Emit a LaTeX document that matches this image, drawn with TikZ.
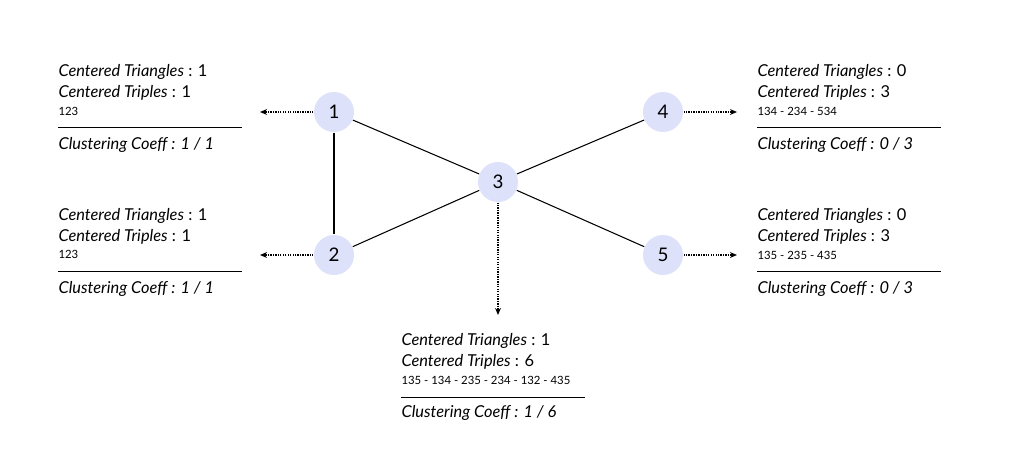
\documentclass[tikz,border=0pt]{standalone}
\usepackage{fontspec}
\setmainfont{Lato}
\usetikzlibrary{arrows.meta}
\definecolor{nodefill}{HTML}{DDE1FA}
\tikzset{
    vertex/.style={circle, fill=nodefill, minimum size=1.2cm, inner sep=0pt, font=\fontsize{16}{16}\selectfont},
    info/.style={anchor=west, inner sep=0pt, font=\fontsize{14}{16}\selectfont},
    small/.style={anchor=west, inner sep=0pt, font=\fontsize{9.7}{11}\selectfont},
    pointer/.style={-{Stealth[length=6pt, width=5pt]}, densely dotted, line width=1.1pt},
    divider/.style={line width=0.6pt},
}
\begin{document}
\begin{tikzpicture}[x=0.03cm, y=-0.03cm, line width=0.9pt]
    \useasboundingbox (0,0) rectangle (1017,463);

    % graph
    \node (v1) [vertex] at (334,112) {1};
    \node (v2) [vertex] at (334,255) {2};
    \node (v3) [vertex] at (498,182) {3};
    \node (v4) [vertex] at (663,112) {4};
    \node (v5) [vertex] at (663,255) {5};

    \draw (v1) -- (v2);
    \draw (v1) -- (v3);
    \draw (v2) -- (v3);
    \draw (v3) -- (v4);
    \draw (v3) -- (v5);

    % where the counts go
    \coordinate (p1) at (260,112);
    \coordinate (p2) at (260,255);
    \coordinate (p3) at (498,315);
    \coordinate (p4) at (737,112);
    \coordinate (p5) at (737,255);
    \draw[pointer] (v1) -- (p1);
    \draw[pointer] (v2) -- (p2);
    \draw[pointer] (v3) -- (p3);
    \draw[pointer] (v4) -- (p4);
    \draw[pointer] (v5) -- (p5);

    % node 1
    \node (tri1) [info] at (58,72) {\textit{Centered Triangles} : 1};
    \node (trp1) [info] at (58,93) {\textit{Centered Triples} : 1};
    \node (lst1) [small] at (58,111) {123};
    \draw[divider] (58,127) -- (242,127);
    \node (cc1) [info] at (58,145) {\textit{Clustering Coeff : 1 / 1}};

    % node 2
    \node (tri2) [info] at (58,216) {\textit{Centered Triangles} : 1};
    \node (trp2) [info] at (58,237) {\textit{Centered Triples} : 1};
    \node (lst2) [small] at (58,254) {123};
    \draw[divider] (58,271) -- (242,271);
    \node (cc2) [info] at (58,289) {\textit{Clustering Coeff : 1 / 1}};

    % node 3
    \node (tri3) [info] at (401,341) {\textit{Centered Triangles} : 1};
    \node (trp3) [info] at (401,362) {\textit{Centered Triples} : 6};
    \node (lst3) [small] at (401,380) {135 - 134 - 235 - 234 - 132 - 435};
    \draw[divider] (401,397) -- (585,397);
    \node (cc3) [info] at (401,413) {\textit{Clustering Coeff : 1 / 6}};

    % node 4
    \node (tri4) [info] at (757,72) {\textit{Centered Triangles} : 0};
    \node (trp4) [info] at (757,93) {\textit{Centered Triples} : 3};
    \node (lst4) [small] at (757,111) {134 - 234 - 534};
    \draw[divider] (757,127) -- (941,127);
    \node (cc4) [info] at (757,145) {\textit{Clustering Coeff : 0 / 3}};

    % node 5
    \node (tri5) [info] at (757,216) {\textit{Centered Triangles} : 0};
    \node (trp5) [info] at (757,237) {\textit{Centered Triples} : 3};
    \node (lst5) [small] at (757,255) {135 - 235 - 435};
    \draw[divider] (757,271) -- (941,271);
    \node (cc5) [info] at (757,289) {\textit{Clustering Coeff : 0 / 3}};
\end{tikzpicture}
\end{document}
